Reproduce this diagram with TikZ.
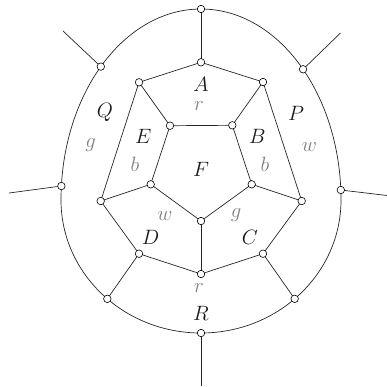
\documentclass[tikz,border=0pt]{standalone}
\usetikzlibrary{calc}
\begin{document}
\begin{tikzpicture}[x=1pt,y=-1pt,
  vtx/.style={circle,draw=black,fill=white,inner sep=0pt,minimum size=7.5pt,line width=0.6pt},
  edge/.style={draw=black!85,line width=0.7pt},
  lab/.style={inner sep=0pt,font=\fontsize{20.5}{22}\selectfont,text=black!90},
  glab/.style={inner sep=0pt,font=\fontsize{20.5}{22}\selectfont,text=black!50}]
\useasboundingbox (0,0) rectangle (387,386);
% ring geometry: center (201,200), rx=140, top ry=191, bottom ry=133
\def\cx{201}\def\cy{200}\def\rx{140}\def\rt{191}\def\rb{133}
% outer ring
\draw[edge] (\cx+\rx,\cy) arc[start angle=0,end angle=-180,x radius=\rx,y radius=\rt];
\draw[edge] (\cx+\rx,\cy) arc[start angle=0,end angle=180,x radius=\rx,y radius=\rb];
% outer ring vertices
\coordinate (Otop) at ({\cx},{\cy-\rt});
\coordinate (Oul) at ({\cx+\rx*cos(135.7)},{\cy-\rt*sin(135.7)});
\coordinate (Our) at ({\cx+\rx*cos(43.2)},{\cy-\rt*sin(43.2)});
\coordinate (Olm) at ({\cx+\rx*cos(175.8)},{\cy-\rt*sin(175.8)});
\coordinate (Orm) at ({\cx+\rx*cos(3)},{\cy-\rt*sin(3)});
\coordinate (Oll) at ({\cx+\rx*cos(228)},{\cy-\rb*sin(228)});
\coordinate (Olr) at ({\cx+\rx*cos(312)},{\cy-\rb*sin(312)});
\coordinate (Obot) at ({\cx},{\cy+\rb});
% free ends
\coordinate (eul) at (63,31);
\coordinate (eur) at (340.5,33);
\coordinate (elm) at (9,193);
\coordinate (erm) at (387,195.5);
\coordinate (ebot) at (201,386);
% middle ring
\coordinate (Mt) at (201,62.3);
\coordinate (Mtl) at (139,82.3);
\coordinate (Mtr) at (263,82);
\coordinate (Mll) at (100.7,201);
\coordinate (Mrl) at (301.7,201);
\coordinate (Md) at (139,253.7);
\coordinate (Mc) at (263,253.7);
\coordinate (Mb) at (201,274);
% inner pentagon
\coordinate (Itl) at (170,125.7);
\coordinate (Itr) at (232.3,125.3);
\coordinate (Ilr) at (251.7,184.3);
\coordinate (Ib) at (201,221);
\coordinate (Ill) at (150.7,184.3);
% edges
\draw[edge] (Otop) -- (Mt);
\draw[edge] (Oul) -- (eul);
\draw[edge] (Our) -- (eur);
\draw[edge] (Olm) -- (elm);
\draw[edge] (Orm) -- (erm);
\draw[edge] (Obot) -- (ebot);
\draw[edge] (Oll) -- (Md);
\draw[edge] (Olr) -- (Mc);
\draw[edge] (Mtl) -- (Mt) -- (Mtr);
\draw[edge] (Mtl) -- (Mll) -- (Md) -- (Mb) -- (Mc) -- (Mrl) -- (Mtr);
\draw[edge] (Mtl) -- (Itl);
\draw[edge] (Mtr) -- (Itr);
\draw[edge] (Mll) -- (Ill);
\draw[edge] (Mrl) -- (Ilr);
\draw[edge] (Mb) -- (Ib);
\draw[edge] (Itl) -- (Itr) -- (Ilr) -- (Ib) -- (Ill) -- cycle;
% vertices
\foreach \p in {Otop,Oul,Our,Olm,Orm,Oll,Olr,Obot,Mt,Mtl,Mtr,Mll,Mrl,Md,Mc,Mb,Itl,Itr,Ilr,Ib,Ill}
  \node[vtx] (v\p) at (\p) {};
% labels
\node[lab] (lA) at (201,84) {$A$};
\node[glab] (lr1) at (199,106) {$r$};
\node[lab] (lQ) at (105,112) {$Q$};
\node[lab] (lP) at (296,113) {$P$};
\node[lab] (lE) at (143.3,136) {$E$};
\node[lab] (lB) at (257.3,136) {$B$};
\node[glab] (lg1) at (90.7,145) {$g$};
\node[glab] (lw1) at (309.3,147) {$w$};
\node[glab] (lb1) at (135,164) {$b$};
\node[glab] (lb2) at (265,164) {$b$};
\node[lab] (lF) at (201,169) {$F$};
\node[glab] (lw2) at (165,216) {$w$};
\node[glab] (lg2) at (236,215) {$g$};
\node[lab] (lD) at (150.7,237) {$D$};
\node[lab] (lC) at (250,237) {$C$};
\node[glab] (lr2) at (199,288) {$r$};
\node[lab] (lR) at (201,313) {$R$};
\end{tikzpicture}
\end{document}
